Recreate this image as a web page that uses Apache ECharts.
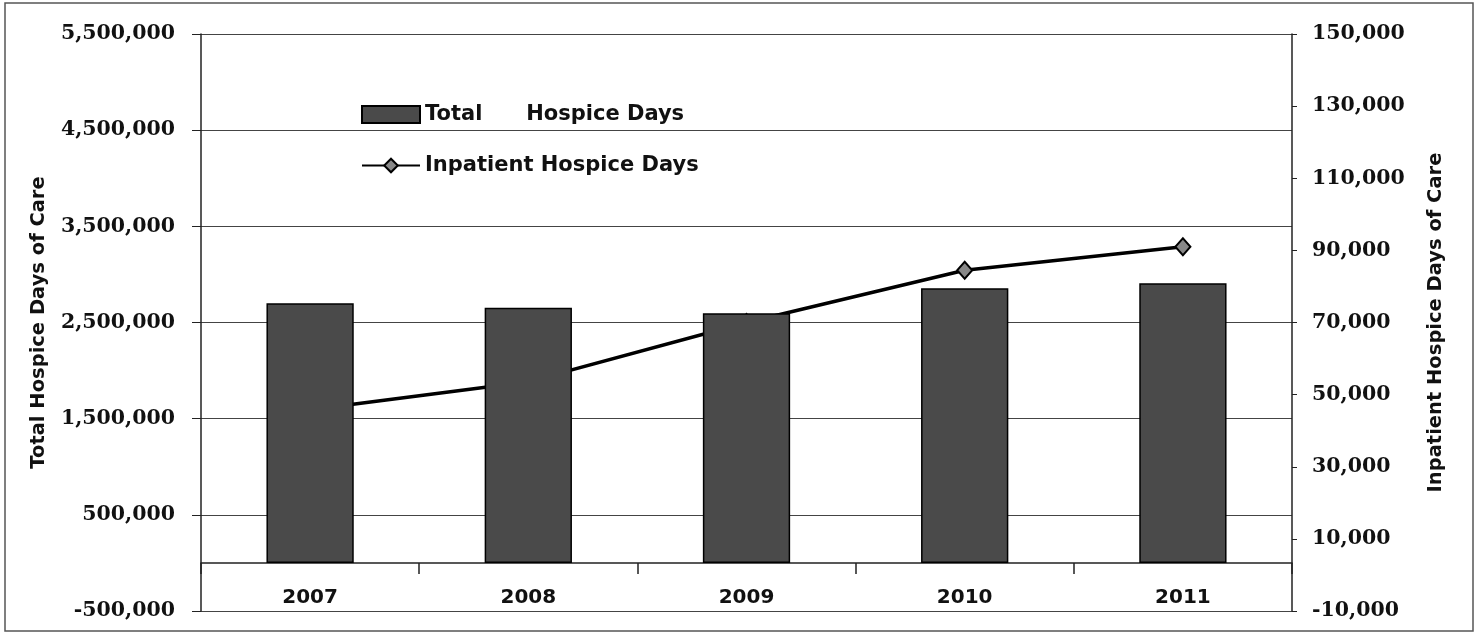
<!DOCTYPE html>
<html><head><meta charset="utf-8">
<script src="https://cdn.jsdelivr.net/npm/echarts@6/dist/echarts.min.js"></script>
<style>html,body{margin:0;padding:0;background:#fff}#c{width:1479px;height:634px}</style>
</head><body><div id="c"></div>
<script>
const categories = ['2007', '2008', '2009', '2010', '2011'];
const totalDays = [2700000, 2654000, 2595000, 2855000, 2907000];
const inpatientDays = [45800, 53600, 70000, 84500, 91000];
const leftAxisRange = { min: -500000, max: 5500000, interval: 1000000 };
const rightAxisRange = { min: -10000, max: 150000, interval: 20000 };
const seriesNames = ['Total      Hospice Days', 'Inpatient Hospice Days'];
const axisTitles = ['Total Hospice Days of Care', 'Inpatient Hospice Days of Care'];

const fmt = v => v.toLocaleString('en-US');
const numFont = { fontFamily: 'DejaVu Serif', fontWeight: 'bold', fontSize: 20.5, color: '#111' };
const titleFont = { fontFamily: 'DejaVu Sans', fontWeight: 'bold', fontSize: 19.5, color: '#111' };

const chart = echarts.init(document.getElementById('c'), null, { renderer: 'canvas' });
chart.setOption({
  animation: false,
  backgroundColor: '#fff',
  graphic: [{
    type: 'rect', shape: { x: 5, y: 3, width: 1468, height: 628 },
    style: { fill: 'none', stroke: '#555', lineWidth: 1.5 }, silent: true
  }],
  grid: { left: 201, right: 187, top: 34, bottom: 23, containLabel: false },
  legend: {
    orient: 'vertical', left: 356, top: 99,
    itemWidth: 58, itemHeight: 17, itemGap: 30,
    textStyle: { fontFamily: 'DejaVu Sans', fontWeight: 'bold', fontSize: 21, color: '#111' },
    data: [{ name: seriesNames[0], icon: 'rect' }, { name: seriesNames[1] }]
  },
  xAxis: [{
    type: 'category', data: categories, position: 'bottom',
    axisLine: { show: false, onZero: false },
    axisTick: { show: false },
    splitLine: { show: false },
    axisLabel: { inside: true, margin: 3, fontFamily: 'DejaVu Sans', fontWeight: 'bold', fontSize: 20, color: '#111' }
  }, {
    type: 'category', data: categories, position: 'bottom',
    axisLine: { show: true, onZero: true, onZeroAxisIndex: 0, lineStyle: { color: '#222', width: 1.5 } },
    axisTick: { show: true, length: 11, lineStyle: { color: '#222', width: 1.5 } },
    axisLabel: { show: false },
    splitLine: { show: false }
  }],
  yAxis: [{
    type: 'value', position: 'left',
    min: leftAxisRange.min, max: leftAxisRange.max, interval: leftAxisRange.interval,
    name: axisTitles[0], nameLocation: 'middle', nameRotate: 90, nameGap: 152,
    nameTextStyle: titleFont,
    axisLine: { show: true, lineStyle: { color: '#222', width: 1.5 } },
    axisTick: { show: true, length: 9, lineStyle: { color: '#222' } },
    splitLine: { show: true, lineStyle: { color: '#444', width: 1.2 } },
    axisLabel: Object.assign({ margin: 26, formatter: fmt }, numFont)
  }, {
    type: 'value', position: 'right',
    min: rightAxisRange.min, max: rightAxisRange.max, interval: rightAxisRange.interval,
    name: axisTitles[1], nameLocation: 'middle', nameRotate: 90, nameGap: 134,
    nameTextStyle: titleFont,
    axisLine: { show: true, lineStyle: { color: '#222', width: 1.5 } },
    axisTick: { show: true, length: 5, lineStyle: { color: '#222' } },
    splitLine: { show: false },
    axisLabel: Object.assign({ margin: 20, formatter: fmt }, numFont)
  }],
  series: [{
    name: seriesNames[0], type: 'bar', xAxisIndex: 0, yAxisIndex: 0,
    data: totalDays, barCategoryGap: '60%', z: 3,
    itemStyle: { color: '#4a4a4a', borderColor: '#000', borderWidth: 1.5 }
  }, {
    name: seriesNames[1], type: 'line', xAxisIndex: 0, yAxisIndex: 1,
    data: inpatientDays, z: 2,
    symbol: 'diamond', symbolSize: [15, 17], showAllSymbol: true,
    lineStyle: { color: '#000', width: 3.5 },
    itemStyle: { color: '#888', borderColor: '#000', borderWidth: 2 }
  }]
});
</script>
</body></html>
